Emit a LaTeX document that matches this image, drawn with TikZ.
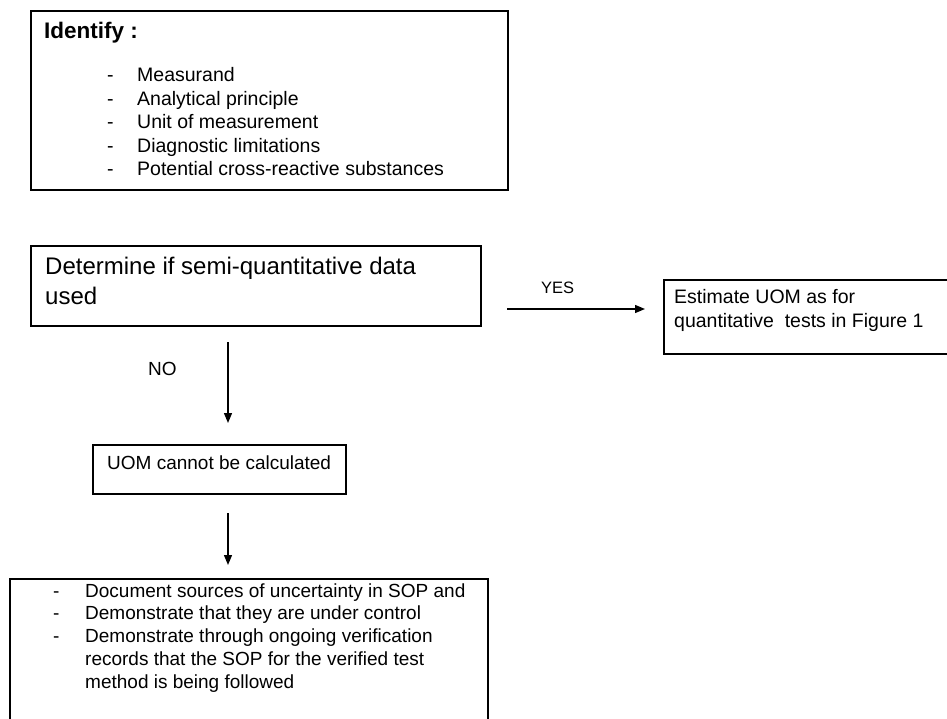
\documentclass[tikz,border=0pt]{standalone}
\usepackage{fontspec}
\setmainfont{Liberation Sans}
\usetikzlibrary{arrows.meta, calc, positioning}

\tikzset{
  box/.style={draw, line width=1.6pt, inner sep=0pt, outer sep=0pt, anchor=north west},
  txt/.style={inner sep=0pt, anchor=base west},
  arr/.style={line width=1.3pt, -{Triangle[length=10pt,width=8pt]}}
}

\begin{document}
\begin{tikzpicture}[x=1pt, y=-1pt]
  \clip (0,0) rectangle (947,719);
  \fill[white] (0,0) rectangle (947,719);
  % boxes
  \node[box, minimum width=477pt, minimum height=179pt] (ident) at (31,11) {};
  \node[box, minimum width=450pt, minimum height=80pt] (det) at (31,246) {};
  \node[box, minimum width=253pt, minimum height=49pt] (uom) at (93,445) {};
  \node[box, minimum width=300pt, minimum height=74pt] (est) at (664,280) {};
  \node[box, minimum width=478pt, minimum height=160pt] (doc) at (10,579) {};
  % texts
  \node[txt, font=\fontsize{22.5}{27}\selectfont\bfseries] (identhd) at (44,39) {Identify :};
  \node[txt, font=\fontsize{19.5}{23.5}\selectfont] (identlist) at (107,82)
    {\begin{tabular}[t]{@{}p{30pt}@{}l@{}}
      - & Measurand\\
      - & Analytical principle\\
      - & Unit of measurement\\
      - & Diagnostic limitations\\
      - & Potential cross-reactive substances
    \end{tabular}};
  \node[txt, font=\fontsize{24}{29}\selectfont] (dettxt) at (45,275)
    {\begin{tabular}[t]{@{}l@{}}Determine if semi-quantitative data\\ used\end{tabular}};
  \node[txt, font=\fontsize{19}{23}\selectfont] (no) at (148,375) {NO};
  \node[txt, font=\fontsize{19}{23}\selectfont] (uomtxt) at (107,469) {UOM cannot be calculated};
  \node[txt, font=\fontsize{16.5}{20}\selectfont] (yes) at (541,293) {YES};
  \node[txt, font=\fontsize{19.5}{24}\selectfont] (esttxt) at (674,303)
    {\begin{tabular}[t]{@{}l@{}}Estimate UOM as for\\ quantitative\ \ tests in Figure 1\end{tabular}};
  \node[txt, font=\fontsize{19}{22.8}\selectfont] (doctxt) at (53,597)
    {\begin{tabular}[t]{@{}p{32pt}@{}l@{}}
      - & Document sources of uncertainty in SOP and\\
      - & Demonstrate that they are under control\\
      - & Demonstrate through ongoing verification\\
        & records that the SOP for the verified test\\
        & method is being followed
    \end{tabular}};
  % arrows
  \coordinate (nocol) at (228,0);
  \coordinate (yesrow) at (0,309);
  \draw[arr, shorten <=16pt, shorten >=22pt] (nocol |- det.south) -- (nocol |- uom.north);
  \draw[arr, shorten <=19pt, shorten >=14pt] (nocol |- uom.south) -- (nocol |- doc.north);
  \draw[arr, shorten <=26pt, shorten >=19pt] (det.east |- yesrow) -- (est.west |- yesrow);
\end{tikzpicture}
\end{document}
